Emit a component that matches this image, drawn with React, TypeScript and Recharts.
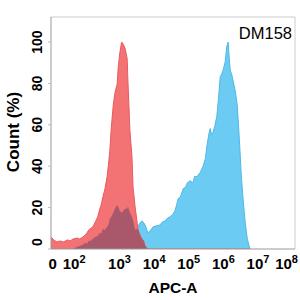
import React from "react";
import {
  ComposedChart,
  Area,
  XAxis,
  YAxis,
  ReferenceLine
} from "recharts";

// x is the displayed log10(APC-A) position, y is count in % of the mode
const logX = [
  1.02, 1.10, 1.19, 1.28, 1.38, 1.49, 1.57, 1.66, 1.77, 1.85,
  1.94, 2.01, 2.06, 2.11, 2.15, 2.23, 2.30, 2.37, 2.43, 2.47,
  2.52, 2.58, 2.64, 2.68, 2.72, 2.76, 2.82, 2.87, 2.93, 2.96,
  3.01, 3.06, 3.11, 3.16, 3.22, 3.24, 3.30, 3.36, 3.39, 3.45,
  3.51, 3.53, 3.59, 3.65, 3.70, 3.74, 3.82, 3.88, 3.97, 4.05,
  4.17, 4.24, 4.32, 4.39, 4.45, 4.53, 4.60, 4.65, 4.69, 4.76,
  4.84, 4.91, 4.96, 5.04, 5.12, 5.17, 5.24, 5.33, 5.41, 5.48,
  5.53, 5.59, 5.62, 5.66, 5.70, 5.75, 5.81, 5.86, 5.91, 5.95,
  5.99, 6.05, 6.10, 6.14, 6.17, 6.20, 6.24, 6.28, 6.34, 6.40,
  6.44, 6.48, 6.52, 6.57, 6.62, 6.69, 6.77
];

const isotype = [
  5.8, 4.4, 3.4, 3.9, 3.4, 4.4, 3.9, 4.8, 5.3, 4.8,
  5.8, 6.8, 7.8, 9.2, 9.7, 10.7, 13.1, 15.5, 19.4, 21.3,
  25.2, 29.1, 34.9, 40.7, 47.5, 58.2, 69.8, 75.7, 79.5, 87.3,
  95, 100, 98.9, 97, 92.1, 82.4, 57.2, 44.6, 30.1, 20.4,
  12.6, 9.7, 6.8, 4.8, 3.9, 1.5, 0, 0, 0, 0,
  0, 0, 0, 0, 0, 0, 0, 0, 0, 0,
  0, 0, 0, 0, 0, 0, 0, 0, 0, 0,
  0, 0, 0, 0, 0, 0, 0, 0, 0, 0,
  0, 0, 0, 0, 0, 0, 0, 0, 0, 0,
  0, 0, 0, 0, 0, 0, 0
];

const dm158 = [
  0, 0, 0, 0, 0, 0, 0, 0, 1, 1.5,
  2, 3, 2.5, 4, 3.8, 4.8, 5.8, 6.3, 7.8, 7.3,
  9.7, 9.2, 10.7, 11.6, 14.5, 15.5, 17.5, 19.4, 21.3, 20.4,
  18.4, 17.5, 18.4, 19.4, 19.4, 20.4, 17.5, 15.5, 13.6, 9.2,
  9.7, 10.7, 12.6, 13.6, 12.6, 11.6, 7.8, 8.7, 10.7, 11.1,
  11.6, 13.1, 13.6, 15, 15.5, 16.5, 18.4, 21.3, 24.2, 25.2,
  29.1, 30, 32, 33, 32, 35, 35, 37, 39.8, 43.6,
  50.4, 56.3, 58.2, 55.3, 56.3, 59.2, 64, 72.7, 83.4, 84.4,
  86.3, 90.2, 98, 100, 92.1, 86.3, 84.4, 81.5, 76.6, 69.8,
  59.2, 47.5, 34.9, 24.2, 14.5, 5, 0
];

const xTickValues = [1.07, 1.69, 3, 4, 5, 6, 7, 8];
const xTickBase = ["0", "10", "10", "10", "10", "10", "10", "10"];
const xTickExp = ["", "2", "3", "4", "5", "6", "7", "8"];
const yTickValues = [0, 20, 40, 60, 80, 100];

const rows = logX.map((x, i) => ({
  x,
  isotype: isotype[i],
  dm158: dm158[i],
  overlap: Math.min(isotype[i], dm158[i])
}));

const FONT = "'Liberation Sans', Arial, sans-serif";

const XTick = (props: any) => {
  const { x, y, payload } = props;
  const i = xTickValues.indexOf(payload.value);
  const shift = payload.value === 8 ? -6 : 0;
  return (
    <text
      x={x + shift}
      y={y + 12}
      textAnchor="middle"
      fontFamily={FONT}
      fontWeight="bold"
      fontSize={15}
      fill="#000"
    >
      <tspan>{xTickBase[i]}</tspan>
      {xTickExp[i] && (
        <tspan dy={-6} fontSize={11}>
          {xTickExp[i]}
        </tspan>
      )}
    </text>
  );
};

const YTick = (props: any) => {
  const { x, y, payload } = props;
  const yy = payload.value === 0 ? y - 7 : y;
  return (
    <text
      x={x}
      y={yy}
      textAnchor="middle"
      transform={`rotate(-90, ${x}, ${yy})`}
      fontFamily={FONT}
      fontWeight="bold"
      fontSize={14}
      fill="#000"
    >
      {payload.value}
    </text>
  );
};

export default function App() {
  return (
    <div style={{ position: "absolute", left: 0, top: 0, width: 300, height: 300, background: "#fff" }}>
      <ComposedChart
        width={300}
        height={300}
        data={rows}
        margin={{ top: 17, right: 5, bottom: 0, left: 0 }}
      >
        <XAxis
          type="number"
          dataKey="x"
          domain={[1.02, 8.07]}
          ticks={xTickValues}
          interval={0}
          allowDataOverflow
          height={51}
          tick={<XTick />}
          tickLine={false}
          axisLine={{ stroke: "#999" }}
        />
        <YAxis
          type="number"
          domain={[0, 112.1]}
          ticks={yTickValues}
          allowDataOverflow
          width={51}
          tick={<YTick />}
          tickSize={3}
          tickMargin={6}
          tickLine={{ stroke: "#bbb" }}
          axisLine={{ stroke: "#999" }}
        />
        <ReferenceLine y={112.1} stroke="#ccc" />
        <ReferenceLine x={8.07} stroke="#ccc" />
        <Area
          type="linear"
          dataKey="dm158"
          stroke="#4fb8e6"
          strokeWidth={1}
          fill="#6ccbf2"
          fillOpacity={1}
          dot={false}
          activeDot={false}
          isAnimationActive={false}
        />
        <Area
          type="linear"
          dataKey="isotype"
          stroke="#ea5a5e"
          strokeWidth={1}
          fill="#f26c6e"
          fillOpacity={0.95}
          dot={false}
          activeDot={false}
          isAnimationActive={false}
        />
        <Area
          type="linear"
          dataKey="overlap"
          stroke="none"
          fill="#a8586a"
          fillOpacity={1}
          dot={false}
          activeDot={false}
          isAnimationActive={false}
        />
      </ComposedChart>
      <svg
        width={300}
        height={300}
        style={{ position: "absolute", left: 0, top: 0, pointerEvents: "none" }}
      >
        <text
          x={292}
          y={38.5}
          textAnchor="end"
          fontFamily={FONT}
          fontSize={16.5}
          fill="#000"
        >
          DM158
        </text>
        <text
          x={173}
          y={293}
          textAnchor="middle"
          fontFamily={FONT}
          fontWeight="bold"
          fontSize={15.5}
          fill="#000"
        >
          APC-A
        </text>
        <text
          x={19}
          y={132}
          textAnchor="middle"
          transform="rotate(-90, 19, 132)"
          fontFamily={FONT}
          fontWeight="bold"
          fontSize={17}
          fill="#000"
        >
          Count (%)
        </text>
      </svg>
    </div>
  );
}
